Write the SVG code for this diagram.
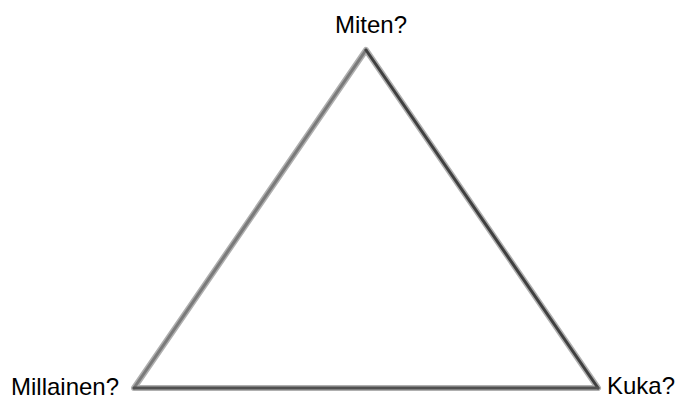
<svg xmlns="http://www.w3.org/2000/svg" width="679" height="399" viewBox="0 0 679 399">
<style>
.lbl{font-family:"Liberation Sans",Arial,sans-serif;font-size:24px;fill:#000}
.outer{fill:none;stroke:#b0b0b0;stroke-width:6;stroke-linejoin:round;stroke-linecap:round}
.inner{fill:none;stroke-width:3;stroke-linecap:round}
</style>
<rect width="679" height="399" fill="#fff"/>
<g id="connectors">
<path class="outer" d="M366,50 L598,388 L134,388 Z"/>
<line class="inner" x1="366" y1="50" x2="134" y2="388" stroke="#7a7a7a"/>
<line class="inner" x1="366" y1="50" x2="598" y2="388" stroke="#404040"/>
<line class="inner" x1="134" y1="388" x2="598" y2="388" stroke="#505050"/>
</g>
<g id="top"><text class="lbl" x="371" y="33" text-anchor="middle">Miten?</text></g>
<g id="left"><text class="lbl" x="11" y="395">Millainen?</text></g>
<g id="right"><text class="lbl" x="607" y="394">Kuka?</text></g>
</svg>
